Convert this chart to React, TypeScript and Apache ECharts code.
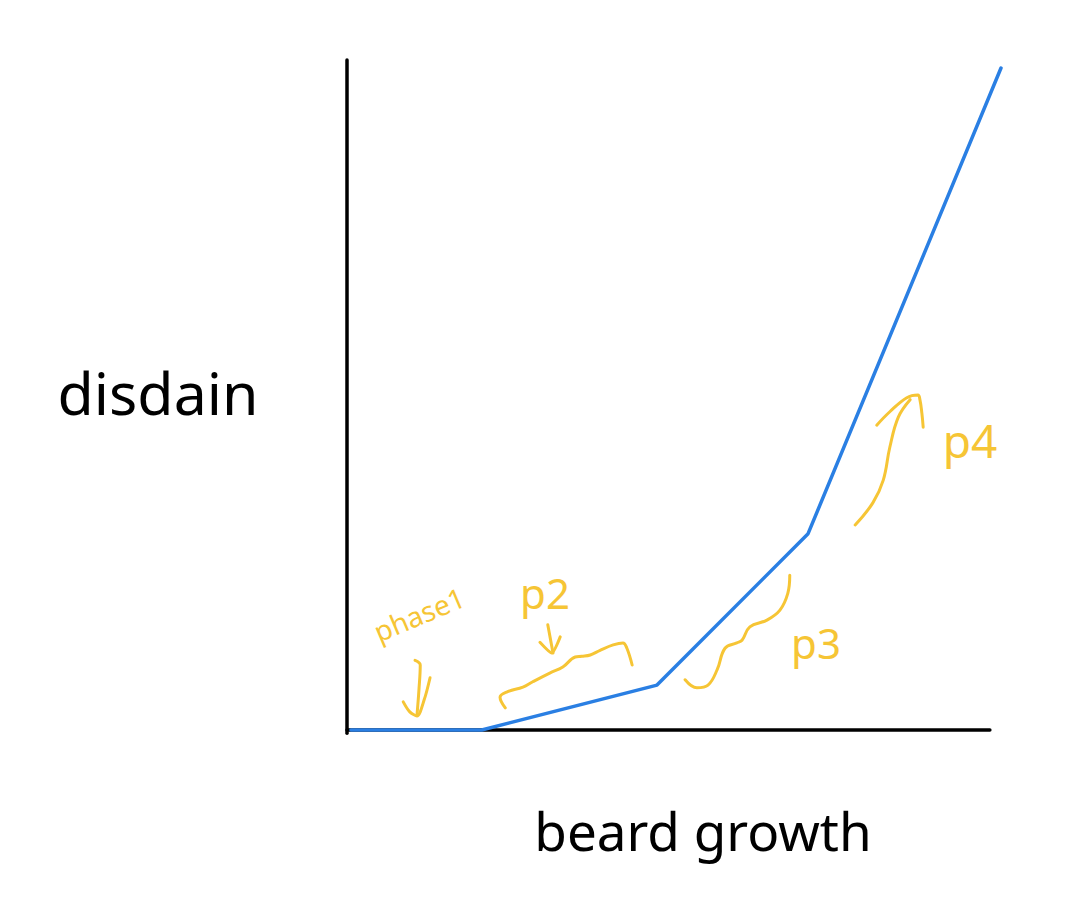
import React, { useEffect, useRef } from "react";
import * as echarts from "echarts";

// Axis lines (value units: x 0..100, y 0..100)
const yAxisLine: number[][] = [[0, -0.5], [0, 100]];
const xAxisLine: number[][] = [[0, 0], [98.3, 0]];

// The blue "disdain" curve
const disdainCurve: number[][] = [
  [0.6, 0],
  [20.6, 0],
  [47.4, 6.7],
  [70.5, 29.3],
  [100, 98.8],
];

// Yellow annotation strokes
const phase1Shaft: number[][] = [[10.4, 10.4], [11.2, 9.7], [11.0, 6.0], [10.7, 2.2]];
const phase1Head: number[][] = [[8.6, 4.2], [9.6, 2.7], [10.7, 2.1], [11.8, 4.5], [12.7, 7.8]];
const p2Shaft: number[][] = [[30.7, 15.7], [31.1, 13.6], [31.5, 11.5]];
const p2Head: number[][] = [[29.5, 13.1], [31.3, 11.5], [32.6, 13.9]];
const p2Brace: number[][] = [
  [24.2, 3.3], [23.4, 4.9], [24.5, 5.7], [26.9, 6.4], [28.4, 7.2], [31.0, 8.5],
  [33.0, 9.4], [34.9, 10.9], [35.9, 11.0], [37.2, 11.2], [38.7, 11.9], [40.7, 12.7],
  [42.2, 13.0], [42.8, 12.2], [43.6, 9.7],
];
const p3Brace: number[][] = [
  [51.7, 7.5], [53.5, 6.3], [55.2, 6.7], [56.6, 9.0], [57.8, 12.2], [59.6, 13.0],
  [60.4, 13.4], [61.6, 15.4], [64.2, 16.4], [66.2, 17.9], [67.4, 20.4], [67.7, 23.1],
];
const p4Shaft: number[][] = [[77.7, 30.6], [80.4, 33.9], [82.0, 37.3], [83.0, 42.2], [84.3, 46.7], [86.1, 49.3]];
const p4Head: number[][] = [[81.0, 45.5], [83.0, 47.5], [85.6, 49.6], [87.3, 50.0], [87.6, 49.3], [87.9, 47.3], [88.1, 45.2]];

const xLabel = "beard growth";
const yLabel = "disdain";
const annotationTexts = ["phase1", "p2", "p3", "p4"];

const BLUE = "#2a7fe3";
const YELLOW = "#f6c535";
const HAND_FONT = "'Noto Sans', 'DejaVu Sans', sans-serif";

export default function App() {
  const ref = useRef<HTMLDivElement>(null);

  useEffect(() => {
    document.body.style.margin = "0";
    if (!ref.current) return;
    const chart = echarts.init(ref.current, undefined, { renderer: "svg" });

    const stroke = (name: string, data: number[][], color: string, width: number, smooth: number | boolean) => ({
      name,
      type: "line",
      data,
      smooth,
      symbol: "none",
      clip: false,
      silent: true,
      lineStyle: { color, width, cap: "round", join: "round" },
    });

    chart.setOption({
      animation: false,
      backgroundColor: "#ffffff",
      grid: { left: 347, right: 81, top: 60, bottom: 190 },
      xAxis: { type: "value", min: 0, max: 100, show: false },
      yAxis: { type: "value", min: 0, max: 100, show: false },
      series: [
        stroke("y axis", yAxisLine, "#000000", 3.5, false),
        stroke("x axis", xAxisLine, "#000000", 3.5, false),
        stroke("disdain", disdainCurve, BLUE, 3.5, false),
        stroke("phase1 arrow", phase1Shaft, YELLOW, 3, 0.4),
        stroke("phase1 head", phase1Head, YELLOW, 3, 0.3),
        stroke("p2 arrow", p2Shaft, YELLOW, 3, 0.3),
        stroke("p2 head", p2Head, YELLOW, 3, 0.2),
        stroke("p2 brace", p2Brace, YELLOW, 3, 0.4),
        stroke("p3 brace", p3Brace, YELLOW, 3, 0.4),
        stroke("p4 arrow", p4Shaft, YELLOW, 3, 0.4),
        stroke("p4 head", p4Head, YELLOW, 3, 0.4),
      ],
      graphic: [
        {
          type: "text",
          x: 158,
          y: 392,
          style: {
            text: yLabel,
            fill: "#000000",
            font: `normal 59px ${HAND_FONT}`,
            align: "center",
            verticalAlign: "middle",
          },
        },
        {
          type: "text",
          x: 703,
          y: 830,
          style: {
            text: xLabel,
            fill: "#000000",
            font: `normal 53px ${HAND_FONT}`,
            align: "center",
            verticalAlign: "middle",
          },
        },
        {
          type: "text",
          x: 419,
          y: 614,
          rotation: 0.4,
          style: {
            text: annotationTexts[0],
            fill: YELLOW,
            font: `normal 28px ${HAND_FONT}`,
            align: "center",
            verticalAlign: "middle",
          },
        },
        {
          type: "text",
          x: 545,
          y: 592,
          style: {
            text: annotationTexts[1],
            fill: YELLOW,
            font: `normal 42px ${HAND_FONT}`,
            align: "center",
            verticalAlign: "middle",
          },
        },
        {
          type: "text",
          x: 816,
          y: 642,
          style: {
            text: annotationTexts[2],
            fill: YELLOW,
            font: `normal 42px ${HAND_FONT}`,
            align: "center",
            verticalAlign: "middle",
          },
        },
        {
          type: "text",
          x: 970,
          y: 440,
          style: {
            text: annotationTexts[3],
            fill: YELLOW,
            font: `normal 46px ${HAND_FONT}`,
            align: "center",
            verticalAlign: "middle",
          },
        },
      ],
    });

    return () => chart.dispose();
  }, []);

  return <div ref={ref} style={{ width: 1082, height: 920 }} />;
}
